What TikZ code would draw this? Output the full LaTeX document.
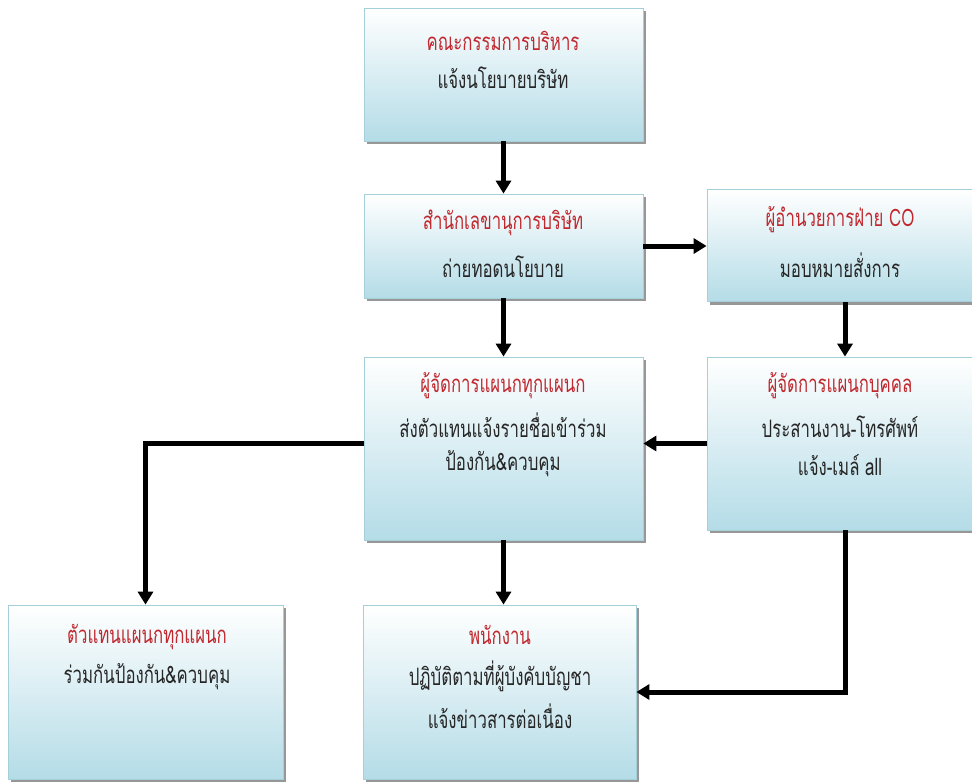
\documentclass[tikz,border=0pt]{standalone}
\usepackage{fontspec}
\newfontfamily\thaifont[Script=Thai,FakeStretch=0.7]{Loma}
\usetikzlibrary{arrows.meta,shadows}
\definecolor{boxblue}{HTML}{B4DCE7}
\definecolor{boxedge}{HTML}{A5CFD9}
\definecolor{titlered}{HTML}{C0282E}
\tikzset{
  box/.style={draw=boxedge, line width=0.8pt, top color=white, bottom color=boxblue,
    drop shadow={shadow xshift=3pt, shadow yshift=-3pt, fill=black!45, opacity=0.9},
    inner sep=0pt},
  ttl/.style={font=\thaifont\fontsize{24}{28}\selectfont, text=titlered},
  txt/.style={font=\thaifont\fontsize{24}{28}\selectfont, text=black!85},
  conn/.style={line width=5pt, -{Triangle[length=13pt,width=15pt]}}
}
\begin{document}
\begin{tikzpicture}[x=1pt,y=-1pt]
\clip (0,0) rectangle (972,782);
\fill[white] (0,0) rectangle (972,782);
% boxes
\node[box, minimum width=279pt, minimum height=133pt] (b1) at (503.5,74.5) {};
\node[box, minimum width=279pt, minimum height=104pt] (b2) at (503.5,246) {};
\node[box, minimum width=276pt, minimum height=112pt] (b3) at (845,245.5) {};
\node[box, minimum width=279pt, minimum height=183pt] (b4) at (503.5,448.5) {};
\node[box, minimum width=276pt, minimum height=173pt] (b5) at (845,443.5) {};
\node[box, minimum width=275pt, minimum height=174pt] (b6) at (145.5,692) {};
\node[box, minimum width=273pt, minimum height=174pt] (b7) at (499.5,692) {};
% texts
\node[ttl] (t1a) at (503,41) {คณะกรรมการบริหาร};
\node[txt] (t1b) at (503,78) {แจ้งนโยบายบริษัท};
\node[ttl] (t2a) at (503,223) {สำนักเลขานุการบริษัท};
\node[txt] (t2b) at (503,267) {ถ่ายทอดนโยบาย};
\node[ttl] (t3a) at (840,220) {ผู้อำนวยการฝ่าย CO};
\node[txt] (t3b) at (840,265) {มอบหมายสั่งการ};
\node[ttl] (t4a) at (503,386) {ผู้จัดการแผนกทุกแผนก};
\node[txt] (t4b) at (503,425) {ส่งตัวแทนแจ้งรายชื่อเข้าร่วม};
\node[txt] (t4c) at (503,464) {ป้องกัน\&ควบคุม};
\node[ttl] (t5a) at (840,386) {ผู้จัดการแผนกบุคคล};
\node[txt] (t5b) at (840,427) {ประสานงาน-โทรศัพท์};
\node[txt] (t5c) at (840,465) {แจ้ง-เมล์ all};
\node[ttl] (t6a) at (147,637) {ตัวแทนแผนกทุกแผนก};
\node[txt] (t6b) at (147,677) {ร่วมกันป้องกัน\&ควบคุม};
\node[ttl] (t7a) at (500,635) {พนักงาน};
\node[txt] (t7b) at (500,676) {ปฏิบัติตามที่ผู้บังคับบัญชา};
\node[txt] (t7c) at (500,716) {แจ้งข่าวสารต่อเนื่อง};
% connectors
\draw[conn] (b1.south) -- (b2.north);
\draw[conn] (b2.east) -- (b3.west |- b2.east);
\draw[conn] (b2.south) -- (b4.north);
\draw[conn] (b3.south) -- (b5.north);
\draw[conn] (b5.west) -- (b4.east |- b5.west);
\draw[conn] (b4.west |- b5.west) -| (b6.north);
\draw[conn] (b4.south -| b2.south) -- (b7.north -| b2.south);
\draw[conn] (b5.south) |- (b7.east);
\end{tikzpicture}
\end{document}
